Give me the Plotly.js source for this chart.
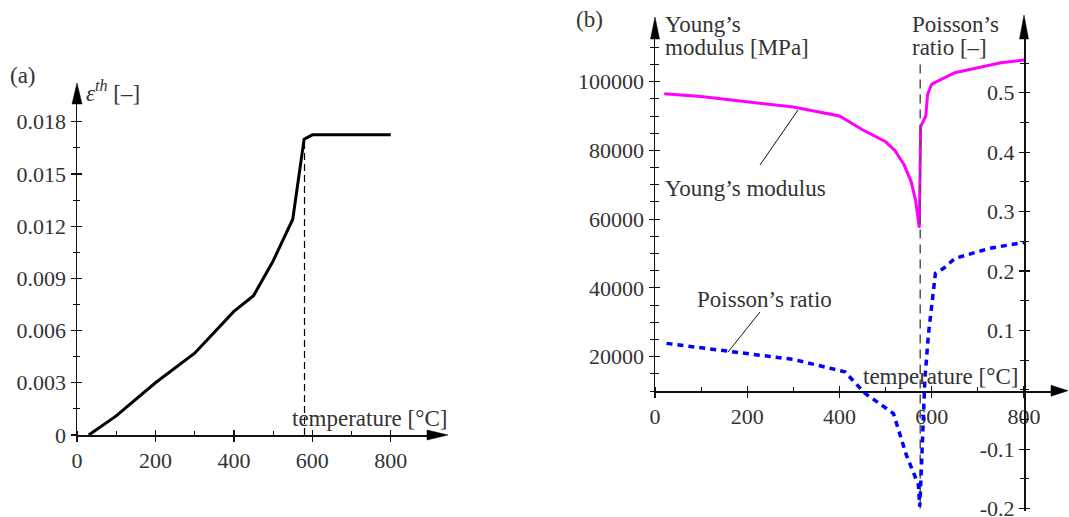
<!DOCTYPE html>
<html>
<head>
<meta charset="utf-8">
<script src="https://cdn.plot.ly/plotly-3.0.1.min.js"></script>
<style>html,body{margin:0;padding:0;background:#fff;}#chart{width:1069px;height:517px;}</style>
</head>
<body>
<div id="chart"></div>
<script>
// ---- data: panel (a) thermal strain ----
const tempA = [30, 100, 200, 300, 400, 450, 500, 550, 579, 600, 800];
const epsTh = [0, 0.0011, 0.0030, 0.0047, 0.0071, 0.0080, 0.0100, 0.0124, 0.0170, 0.01725, 0.01725];
const transA = [580, 580];
const transAy = [0, 0.0170];

// ---- data: panel (b) Young's modulus and Poisson's ratio ----
const tempE = [20, 100, 300, 400, 450, 500, 520, 540, 555, 565, 573, 576, 587, 591, 600, 650, 750, 800];
const youngE = [96500, 95700, 92600, 90000, 86000, 82500, 80000, 75800, 71000, 65500, 57500, 86900, 90000, 96300, 99300, 102600, 105500, 106300];
const tempNu = [25, 300, 412, 455, 517, 545, 571, 574, 578, 585, 593, 608, 625, 650, 725, 800];
const poissonNu = [0.078, 0.051, 0.030, -0.006, -0.040, -0.11, -0.16, -0.197, -0.123, 0.016, 0.095, 0.196, 0.204, 0.221, 0.238, 0.248];
const transB = [575, 575];
const transBy = [-0.2, 0.555];

// ---- tick labels ----
const xTickVals = [0, 200, 400, 600, 800];
const xTickText = ['0', '200', '400', '600', '800'];
const epsTickVals = [0, 0.003, 0.006, 0.009, 0.012, 0.015, 0.018];
const epsTickText = ['0', '0.003', '0.006', '0.009', '0.012', '0.015', '0.018'];
const eTickVals = [20000, 40000, 60000, 80000, 100000];
const eTickText = ['20000', '40000', '60000', '80000', '100000'];
const nuTickVals = [-0.2, -0.1, 0.1, 0.2, 0.3, 0.4, 0.5];
const nuTickText = ['-0.2', '-0.1', '0.1', '0.2', '0.3', '0.4', '0.5'];

// ---- layout helpers (pixel -> paper) ----
const W = 1069, H = 517;
const px = x => x / W;
const py = y => 1 - y / H;
const FONT = {family: 'Liberation Serif', size: 22, color: '#333'};
const LFONT = {family: 'Liberation Serif', size: 23, color: '#333'};
const AX = '#111';

function baseAxis(extra) {
  return Object.assign({
    showgrid: false, zeroline: false, fixedrange: true,
    showline: true, linecolor: AX, linewidth: 1.5,
    ticks: 'outside', ticklen: 5, tickwidth: 1.2, tickcolor: AX,
    tickfont: FONT, ticklabeloverflow: 'allow'
  }, extra);
}
function overlayAxis(extra) {
  return Object.assign({
    showgrid: false, zeroline: false, fixedrange: true,
    showline: false, showticklabels: false,
    ticks: 'inside', ticklen: 5, tickwidth: 1.2, tickcolor: AX
  }, extra);
}

const xRangeA = [0, 905];
const yRangeA = [0, 0.01925];
const xRangeB = [0, 867.2];
const yRangeE = [10000, 113273];
const yRangeNu = [-0.2042, 0.5955];

const traces = [
  {x: tempA, y: epsTh, xaxis: 'x', yaxis: 'y', mode: 'lines', line: {color: '#000', width: 3}},
  {x: transA, y: transAy, xaxis: 'x', yaxis: 'y', mode: 'lines', line: {color: '#000', width: 1.2, dash: '7px,4px'}},
  {x: transB, y: transBy, xaxis: 'x2', yaxis: 'y4', mode: 'lines', line: {color: '#555', width: 1.5, dash: '9px,6px'}},
  {x: tempE, y: youngE, xaxis: 'x2', yaxis: 'y3', mode: 'lines', line: {color: '#ff00ff', width: 3}},
  {x: tempNu, y: poissonNu, xaxis: 'x2', yaxis: 'y4', mode: 'lines', line: {color: '#0000ff', width: 3.5, dash: '6px,5px'}},
  // empty traces so overlay tick axes get drawn
  {x: [null], y: [null], xaxis: 'x3', yaxis: 'y', mode: 'lines'},
  {x: [null], y: [null], xaxis: 'x', yaxis: 'y5', mode: 'lines'},
  {x: [null], y: [null], xaxis: 'x4', yaxis: 'y3', mode: 'lines'},
  {x: [null], y: [null], xaxis: 'x2', yaxis: 'y6', mode: 'lines'},
  {x: [null], y: [null], xaxis: 'x2', yaxis: 'y7', mode: 'lines'}
];

function arrowUp(x, tip, base, hw) {
  return {type: 'path', xref: 'paper', yref: 'paper', fillcolor: '#000', line: {color: '#000', width: 0.5},
    path: `M ${px(x)} ${py(tip)} L ${px(x - hw)} ${py(base)} L ${px(x + hw)} ${py(base)} Z`};
}
function arrowRight(y, tip, base, hh) {
  return {type: 'path', xref: 'paper', yref: 'paper', fillcolor: '#000', line: {color: '#000', width: 0.5},
    path: `M ${px(tip)} ${py(y)} L ${px(base)} ${py(y - hh)} L ${px(base)} ${py(y + hh)} Z`};
}
function leader(x0, y0, x1, y1) {
  return {type: 'line', xref: 'paper', yref: 'paper', x0: px(x0), y0: py(y0), x1: px(x1), y1: py(y1),
    line: {color: '#111', width: 1}};
}
function label(text, x, y, xanchor) {
  return {text: text, x: px(x), y: py(y), xref: 'paper', yref: 'paper', showarrow: false,
    xanchor: xanchor || 'left', yanchor: 'middle', font: LFONT};
}

const layout = {
  width: W, height: H,
  margin: {l: 0, r: 0, t: 0, b: 0},
  font: FONT,
  paper_bgcolor: '#fff', plot_bgcolor: 'rgba(0,0,0,0)',
  showlegend: false, hovermode: false,
  xaxis: baseAxis({domain: [px(77), px(432)], range: xRangeA, anchor: 'y',
    tickvals: xTickVals, ticktext: xTickText,
    minor: {dtick: 100, ticks: 'inside', ticklen: 4, tickcolor: AX, tickwidth: 1}}),
  xaxis3: overlayAxis({overlaying: 'x', anchor: 'y', range: xRangeA, tickvals: xTickVals}),
  yaxis: baseAxis({domain: [py(435), py(100)], range: yRangeA, anchor: 'x',
    tickvals: epsTickVals, ticktext: epsTickText,
    minor: {dtick: 0.0015, tick0: 0, ticks: 'outside', ticklen: 3, tickcolor: AX, tickwidth: 1}}),
  yaxis5: overlayAxis({overlaying: 'y', anchor: 'x', range: yRangeA, tickvals: epsTickVals,
    minor: {dtick: 0.0015, tick0: 0, ticks: 'inside', ticklen: 3, tickcolor: AX, tickwidth: 1}}),

  xaxis2: baseAxis({domain: [px(655), px(1055)], range: xRangeB, anchor: 'y3',
    tickvals: xTickVals, ticktext: xTickText,
    minor: {dtick: 100, ticks: 'inside', ticklen: 4, tickcolor: AX, tickwidth: 1}}),
  xaxis4: overlayAxis({overlaying: 'x2', anchor: 'y3', range: xRangeB, tickvals: xTickVals}),
  yaxis3: baseAxis({domain: [py(391), py(36)], range: yRangeE, anchor: 'x2',
    tickvals: eTickVals, ticktext: eTickText,
    minor: {dtick: 5000, tick0: 0, ticks: 'outside', ticklen: 4, tickcolor: AX, tickwidth: 1}}),
  yaxis6: overlayAxis({overlaying: 'y3', anchor: 'x2', range: yRangeE, tickvals: eTickVals,
    minor: {dtick: 5000, tick0: 0, ticks: 'inside', ticklen: 4, tickcolor: AX, tickwidth: 1}}),
  yaxis4: baseAxis({domain: [py(511), py(36)], range: yRangeNu, anchor: 'free', position: px(1024), side: 'left',
    tickvals: nuTickVals, ticktext: nuTickText,
    minor: {dtick: 0.05, tick0: 0, ticks: 'outside', ticklen: 4, tickcolor: AX, tickwidth: 1}}),
  yaxis7: overlayAxis({overlaying: 'y4', anchor: 'free', position: px(1024), side: 'left', range: yRangeNu,
    tickvals: nuTickVals,
    minor: {dtick: 0.05, tick0: 0, ticks: 'inside', ticklen: 4, tickcolor: AX, tickwidth: 1}}),

  shapes: [
    arrowUp(77, 83, 104, 5),
    arrowRight(435, 448, 427, 5),
    arrowUp(655, 17, 39, 4.5),
    arrowUp(1024, 15, 39, 4.5),
    arrowRight(390.7, 1068, 1051, 5.5),
    leader(760, 165, 798, 110),
    leader(760, 312, 728, 352)
  ],
  annotations: [
    label('(a)', 8, 76),
    label('<i>ε</i><sup><i>th</i></sup> [–]', 84, 92),
    label('temperature [°C]', 449, 418, 'right'),
    label('(b)', 574, 20),
    label('Young’s', 663, 25),
    label('modulus [MPa]', 663, 47),
    label('Poisson’s', 910, 25),
    label('ratio [–]', 910, 47),
    label('Young’s modulus', 663, 188),
    label('Poisson’s ratio', 695, 299),
    label('temperature [°C]', 1020, 376, 'right')
  ]
};

Plotly.newPlot('chart', traces, layout, {staticPlot: true, displayModeBar: false});
</script>
</body>
</html>
